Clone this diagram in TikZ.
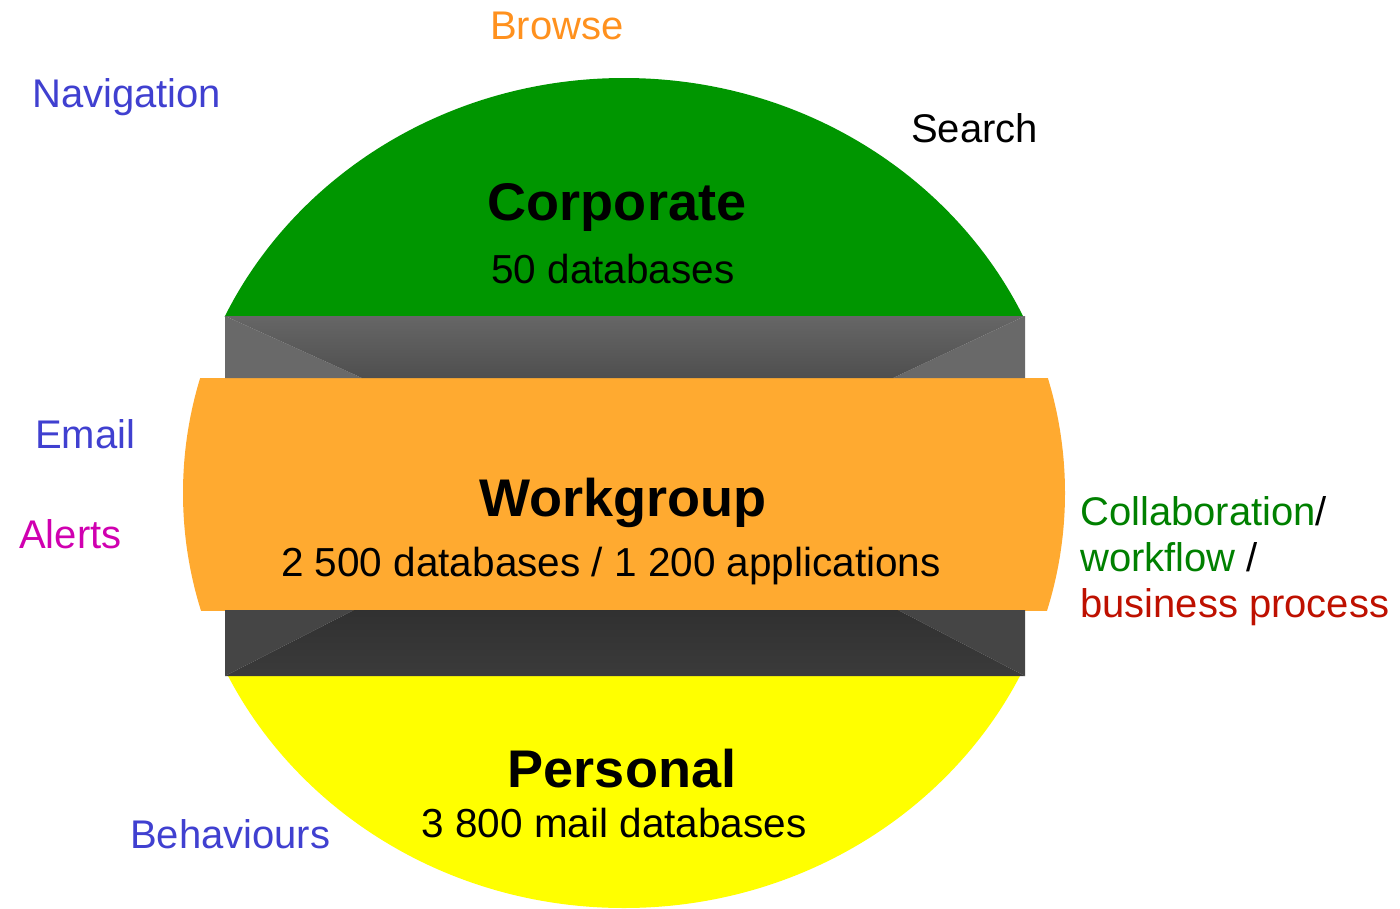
\documentclass[tikz,border=0pt]{standalone}
\usepackage{fontspec}
\setmainfont{Liberation Sans}
\definecolor{corpgreen}{RGB}{0,150,0}
\definecolor{wgorange}{RGB}{255,170,48}
\definecolor{persyellow}{RGB}{255,255,0}
\definecolor{lblblue}{RGB}{64,64,208}
\definecolor{lblorange}{RGB}{255,145,30}
\definecolor{lblmagenta}{RGB}{208,0,176}
\definecolor{lblgreen}{RGB}{0,128,0}
\definecolor{lblred}{RGB}{190,16,0}
\begin{document}
\begin{tikzpicture}[x=1pt,y=-1pt,
  lbl/.style={inner sep=0pt,anchor=base west,font=\fontsize{40}{46}\selectfont},
  sub/.style={inner sep=0pt,anchor=base,font=\fontsize{40.5}{46}\selectfont},
  ttl/.style={inner sep=0pt,anchor=base,font=\bfseries\fontsize{53}{58}\selectfont}]
\useasboundingbox (0,0) rectangle (1400,908);
% layers of the ellipse
\begin{scope}
  \clip (0,0) rectangle (1400,316);
  \fill[corpgreen] (624,493) ellipse [x radius=441pt, y radius=415pt];
\end{scope}
\begin{scope}
  \clip (0,378) rectangle (1400,610);
  \fill[wgorange] (624,493) ellipse [x radius=441pt, y radius=415pt];
\end{scope}
\begin{scope}
  \clip (0,676) rectangle (1400,908);
  \fill[persyellow] (624,493) ellipse [x radius=441pt, y radius=415pt];
\end{scope}
% upper grey bevel band
\fill[black!59] (225,316) -- (362,378) -- (225,378) -- cycle;
\fill[black!59] (1025,316) -- (893,378) -- (1025,378) -- cycle;
\shade[top color=black!60, bottom color=black!69] (225,316) -- (1025,316) -- (893,378) -- (362,378) -- cycle;
% lower grey bevel band
\fill[black!73] (225,610) -- (354,610) -- (225,676) -- cycle;
\fill[black!73] (898,610) -- (1025,610) -- (1025,676) -- cycle;
\shade[top color=black!81, bottom color=black!77] (354,610) -- (898,610) -- (1025,676) -- (225,676) -- cycle;
% titles
\node[ttl] (corp) at (617,220) {\scalebox{1.02}[1]{Corporate}};
\node[sub] (corpn) at (613,283) {50 databases};
\node[ttl] (wg) at (623,516) {\scalebox{1.02}[1]{Workgroup}};
\node[sub] (wgn) at (611,576) {2 500 databases / 1 200 applications};
\node[ttl] (pers) at (622,787) {\scalebox{1.02}[1]{Personal}};
\node[sub] (persn) at (614,837) {3 800 mail databases};
% outer labels
\node[lbl,text=lblorange] (browse) at (490,39) {Browse};
\node[lbl,text=lblblue] (nav) at (32,107) {Navigation};
\node[lbl,text=black] (search) at (911,142) {Search};
\node[lbl,text=lblblue] (email) at (35,448) {Email};
\node[lbl,text=lblmagenta] (alerts) at (19,548) {Alerts};
\node[lbl,text=lblblue] (behav) at (130,848) {Behaviours};
\node[lbl,text=lblgreen] (collab) at (1080,525) {Collaboration\textcolor{black}{/}};
\node[lbl,text=lblgreen] (workflow) at (1080,571) {workflow \textcolor{black}{/}};
\node[lbl,text=lblred] (bp) at (1080,617) {business process};
\end{tikzpicture}
\end{document}
